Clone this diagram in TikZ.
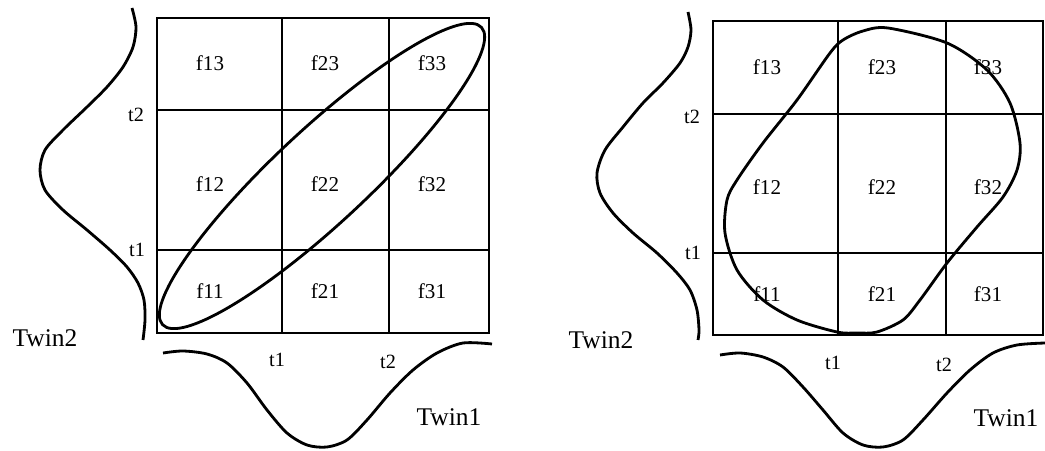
\documentclass[tikz,border=0pt]{standalone}
\usepackage{fontspec}
\setmainfont{Liberation Serif}
\usepackage{tikz}
\usetikzlibrary{positioning, calc}
\tikzset{
  gridline/.style={line width=1.5pt, color=black},
  curve/.style={line width=1.6pt, color=black, smooth},
  cell/.style={font=\fontsize{12}{14}\selectfont},
  tick/.style={font=\fontsize{11.5}{13}\selectfont},
  twin/.style={font=\fontsize{14.5}{16}\selectfont}
}

\begin{document}
\begin{tikzpicture}[x=0.02cm, y=0.02cm]
  \useasboundingbox (0,0) rectangle (1045,450);

  % Left panel: grid
  \draw[gridline] (157,117) rectangle (489,432);
  \draw[gridline] (282,117) -- (282,432);
  \draw[gridline] (389,117) -- (389,432);
  \draw[gridline] (157,340) -- (489,340);
  \draw[gridline] (157,200) -- (489,200);

  % Left panel: cell labels
  \foreach \i/\cx in {1/210,2/325,3/432}
    \foreach \j/\cy in {1/159,2/266,3/387}
      \node[cell] (La\i\j) at (\cx,\cy) {f\i\j};

  % Left panel: thresholds and twins
  \node[tick] (La-y2) at (136,335) {t2};
  \node[tick] (La-y1) at (137,200) {t1};
  \node[tick] (La-x1) at (277,90) {t1};
  \node[tick] (La-x2) at (388,88) {t2};
  \node[twin] (La-twin2) at (45,112) {Twin2};
  \node[twin] (La-twin1) at (449,33) {Twin1};

  % Left panel: marginal curves
  \draw[curve] plot coordinates {(132,442) (136,423) (133,403) (123,383) (107,363) (87,343)
    (63,320) (45,300) (40,280) (45,260) (63,240) (87,220) (110,200) (127,183) (138,167)
    (144,150) (145,130) (143,110)};
  \draw[curve] plot coordinates {(163,97) (183,99) (207,96) (227,87) (247,67) (267,40)
    (287,17) (307,5) (327,3) (347,10) (367,30) (390,57) (413,80) (437,97) (463,107) (492,106)};

  % Left panel: correlated density
  \draw[line width=1.6pt, rotate around={43:(322,274)}] (322,274) ellipse (218 and 47);

  % Right panel: grid
  \draw[gridline] (713,115) rectangle (1043,429);
  \draw[gridline] (838,115) -- (838,429);
  \draw[gridline] (946,115) -- (946,429);
  \draw[gridline] (713,336) -- (1043,336);
  \draw[gridline] (713,197) -- (1043,197);

  % Right panel: cell labels
  \foreach \i/\cx in {1/767,2/882,3/988}
    \foreach \j/\cy in {1/156,2/263,3/383}
      \node[cell] (Lb\i\j) at (\cx,\cy) {f\i\j};

  % Right panel: thresholds and twins
  \node[tick] (Lb-y2) at (692,333) {t2};
  \node[tick] (Lb-y1) at (693,197) {t1};
  \node[tick] (Lb-x1) at (833,87) {t1};
  \node[tick] (Lb-x2) at (944,85) {t2};
  \node[twin] (Lb-twin2) at (601,110) {Twin2};
  \node[twin] (Lb-twin1) at (1006,32) {Twin1};

  % Right panel: marginal curves
  \draw[curve] plot coordinates {(688,438) (691,420) (688,403) (680,387) (663,367) (643,347)
    (623,323) (605,300) (597,277) (600,257) (613,237) (633,217) (657,197) (677,177) (690,160)
    (697,140) (699,120) (698,110)};
  \draw[curve] plot coordinates {(720,95) (740,97) (763,93) (783,83) (803,63) (823,40)
    (843,17) (863,5) (883,3) (903,10) (923,30) (947,57) (970,80) (993,97) (1017,105) (1045,107)};

  % Right panel: density blob
  \draw[line width=1.6pt, smooth cycle] plot coordinates {(888,422) (947,407) (987,380)
    (1010,347) (1020,307) (1017,280) (1003,253) (977,223) (947,187) (920,150) (903,130)
    (877,118) (857,117) (837,118) (797,130) (763,150) (737,180) (725,217) (727,250)
    (737,270) (763,307) (797,350) (830,397) (843,410) (863,419)};
\end{tikzpicture}
\end{document}
